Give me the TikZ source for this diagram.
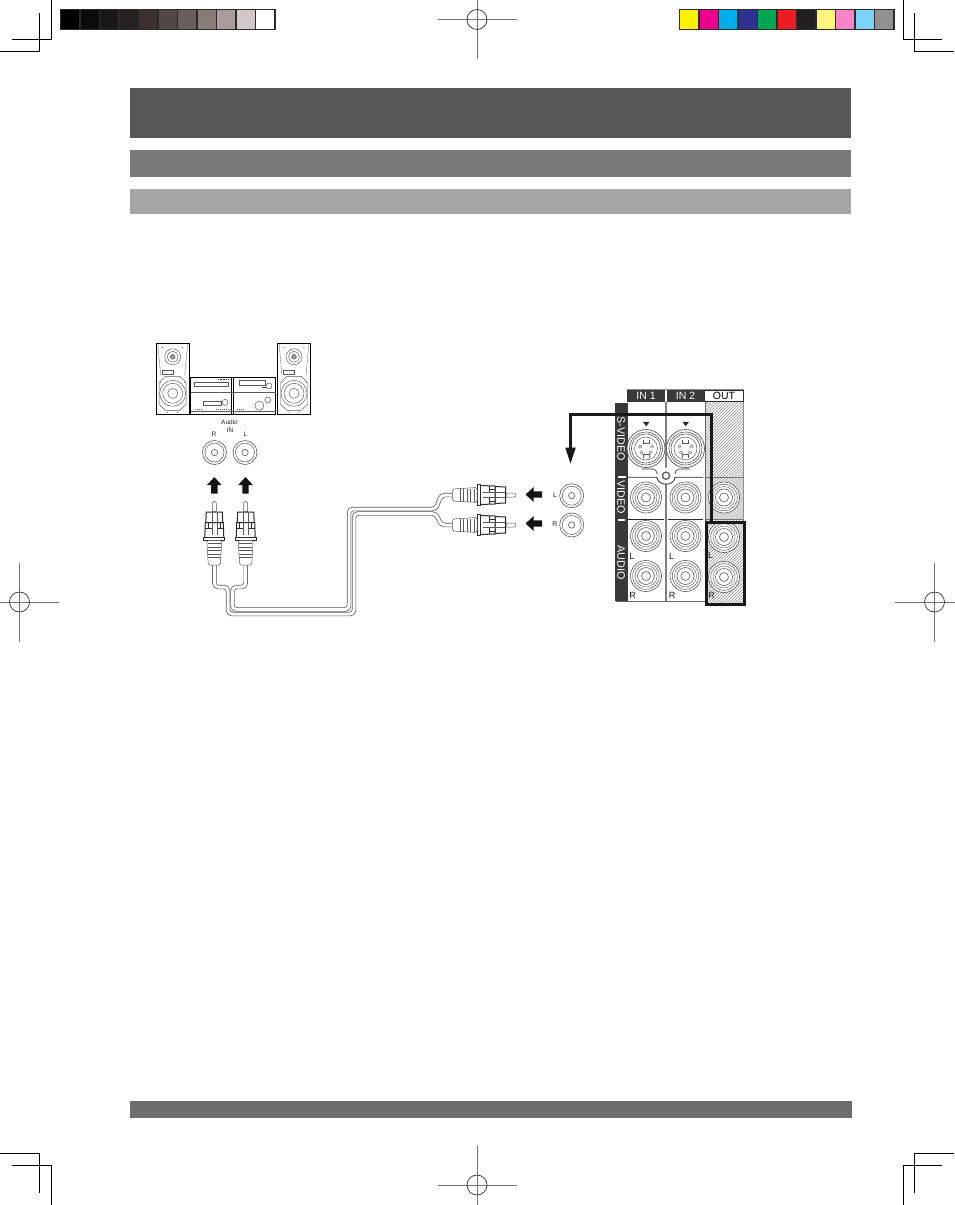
\documentclass[tikz,border=0pt]{standalone}
\usepackage{fontspec}
\setmainfont{Liberation Sans}
\newcommand{\fsz}[1]{\fontsize{#1}{#1}\selectfont}
\definecolor{ink}{HTML}{2B2A2A}
\definecolor{soft}{HTML}{5A5858}
\definecolor{framec}{HTML}{2E2A2A}
\definecolor{bara}{HTML}{595757}
\definecolor{barb}{HTML}{7A7878}
\definecolor{barc}{HTML}{A6A4A4}
\definecolor{bard}{HTML}{6E6C6C}
\definecolor{panelc}{HTML}{3A3838}
\definecolor{hatchc}{HTML}{8C8A8A}
\tikzset{
  crop/.style={black,line width=1pt},
  regline/.style={black!55,line width=.8pt},
  regcirc/.style={black!80,line width=.7pt},
  wire/.style={soft,line width=.7pt,double=white,double distance=3pt,rounded corners=4pt},
  thickconn/.style={black!90,line width=3pt},
  smalltxt/.style={inner sep=0pt,text=black!85,font=\fsz{6.5}},
  jacktxt/.style={inner sep=0pt,text=black!85,font=\fsz{7}},
  portlbl/.style={inner sep=0pt,text=black!90,font=\fsz{9}},
  paneltxt/.style={inner sep=0pt,text=white,font=\fsz{10.8}},
  headtxt/.style={inner sep=0pt,font=\fsz{10.5}},
}
% RCA jack
\newcommand{\rcajack}[2]{%
  \begin{scope}[shift={(#1,#2)}]
    \draw[soft,line width=.6pt,fill=white] (0,0) circle (15.5);
    \draw[soft,line width=.5pt] (0,0) circle (13.3);
    \draw[soft,line width=.4pt] (0,0) circle (11);
    \draw[soft,line width=.6pt] (0,0) circle (8.5);
    \draw[soft,line width=.6pt] (0,0) circle (4.5);
  \end{scope}}
% S-video jack
\newcommand{\svideojack}[2]{%
  \begin{scope}[shift={(#1,#2)}]
    \draw[soft,line width=.7pt,fill=white] (0,0) circle (19);
    \draw[soft,line width=.6pt] (0,0) circle (16.5);
    \draw[soft,line width=.6pt] (0,0) circle (14.5);
    \draw[soft,line width=.5pt] (0,0) circle (11.5);
    \draw[soft,line width=.4pt] (-3,-9) -- (-3,-5.5) -- (3,-5.5) -- (3,-9);
    \draw[soft,line width=.4pt] (-3,9.5) -- (-3,6) -- (3,6) -- (3,9.5);
    \foreach \a/\b in {-6/-2,6/-2,-4.5/4,4.5/4}{\draw[soft,line width=.4pt] (\a,\b) circle (1.6);}
  \end{scope}}
% small jack of the stereo / plug side
\newcommand{\smalljack}[2]{%
  \begin{scope}[shift={(#1,#2)}]
    \draw[soft,line width=.6pt] (0,0) circle (12);
    \draw[soft,line width=.5pt] (0,0) circle (9.5);
    \draw[soft,line width=.6pt] (0,0) circle (3.2);
  \end{scope}}
% Plug: tip at origin, body towards -x
\newcommand{\rcaplug}[3]{%
  \begin{scope}[shift={(#1,#2)},rotate=#3]
    \draw[soft,line width=.5pt,fill=white] (-10,-2) -- (-2,-2) arc (-90:90:2) -- (-10,2) -- cycle;
    \draw[ink,line width=1pt,fill=white] (-21,-8.5) -- (-10.5,-8) -- (-10.5,8) -- (-21,8.5) -- cycle;
    \draw[ink,line width=1pt,fill=white] (-36,-9.5) -- (-21,-9) -- (-21,9) -- (-36,9.5) -- cycle;
    \draw[ink,line width=.5pt] (-21,-6) -- (-27,-6) (-21,6) -- (-27,6) (-27,-9) -- (-27,-2.5) (-27,9) -- (-27,2.5);
    \draw[soft,line width=.35pt] (-33,-2.5) -- (-11,-2.5) (-33,2.5) -- (-11,2.5);
    \draw[ink,line width=.8pt,fill=white] (-39,-10.5) rectangle (-36,10.5);
    \draw[soft,line width=.5pt,fill=white,rounded corners=1.5pt] (-39,-7.5) -- (-63.5,-6) -- (-63.5,6) -- (-39,7.5) -- cycle;
    \foreach \k in {-42,-45.5,-49,-52.5,-56}{\draw[soft,line width=.4pt] (\k,-6.5) -- (\k,6.5);}
  \end{scope}}
% Block arrow
\newcommand{\blockarrow}[3]{%
  \begin{scope}[shift={(#1,#2)},rotate=#3]
    \fill[black!92] (8,0) -- (0,7.3) -- (0,3.2) -- (-8.5,3.2) -- (-8.5,-3.2) -- (0,-3.2) -- (0,-7.3) -- cycle;
  \end{scope}}
% Speaker
\newcommand{\speaker}[2]{%
  \begin{scope}[shift={(#1,#2)}]
    \draw[black,line width=1pt,fill=white] (-16.5,0) rectangle (16.5,71);
    \draw[soft,line width=.3pt] (-15,0) -- (-12,32) (15,0) -- (12,32);
    \draw[soft,line width=.45pt] (0,13.5) circle (8);
    \draw[soft,line width=.45pt] (0,13.5) circle (5.5);
    \draw[soft,line width=.45pt,fill=black!40] (0,13.5) circle (2.4);
    \draw[soft,line width=.4pt] (-11,27) rectangle (0.5,31);
    \draw[soft,line width=.45pt,fill=white] (-7,33) -- (7,33) -- (13.5,39) -- (13.5,61) -- (7,67) -- (-7,67) -- (-13.5,61) -- (-13.5,39) -- cycle;
    \draw[soft,line width=.45pt] (0,50) circle (13);
    \draw[soft,line width=.45pt] (0,50) circle (10);
    \draw[soft,line width=.45pt] (0,50) circle (5);
    \foreach \a/\b in {-10/4,10/4,-5/69,5/69,-12/39,12/39}{\fill[ink] (\a,\b) circle (.5);}
  \end{scope}}
\begin{document}
\begin{tikzpicture}[x=1pt,y=-1pt]
\useasboundingbox (0,0) rectangle (954,1205);
\fill[white] (0,0) rectangle (954,1205);
% crop marks
\draw[crop] (51.5,0) -- (51.5,39.5) -- (12,39.5);
\draw[crop] (39.5,12.5) -- (39.5,51.5) -- (0,51.5);
\draw[crop] (903.3,0) -- (903.3,39.5) -- (942,39.5);
\draw[crop] (914.3,12.5) -- (914.3,51.5) -- (954,51.5);
\draw[crop] (0,1153) -- (39.5,1153) -- (39.5,1192.7);
\draw[crop] (12,1165.3) -- (51.5,1165.3) -- (51.5,1205);
\draw[crop] (954,1153) -- (914.3,1153) -- (914.3,1192.7);
\draw[crop] (942,1165.3) -- (903.3,1165.3) -- (903.3,1205);
% registration marks
\foreach \cx/\cy in {477/19.5,477/1185,19.5/602,934.5/602}{
  \draw[regline] (\cx-39.5,\cy) -- (\cx+39.5,\cy) (\cx,{max(\cy-39.5,0)}) -- (\cx,{min(\cy+39.5,1205)});
  \draw[regcirc] (\cx,\cy) circle (10);
}
% colour bars
\foreach \i/\c in {0/000000,1/0D0B0A,2/1A1716,3/26211E,4/3B302D,5/524845,6/6B5F5C,7/877B76,8/A89D9A,9/D1C9C7,10/FFFFFF}{
  \definecolor{cc}{HTML}{\c}
  \draw[framec,line width=1.2pt,fill=cc] ({60.5+\i*19.5},9.7) rectangle ({60.5+(\i+1)*19.5},29.5);
}
\foreach \i/\c in {0/FFF200,1/EC008C,2/00AEEF,3/2E3192,4/00A651,5/ED1C24,6/231F20,7/FFF57D,8/F783C8,9/7DD3F7,10/918F8F}{
  \definecolor{cc}{HTML}{\c}
  \draw[framec,line width=1.2pt,fill=cc] ({679.5+\i*19.5},9.7) rectangle ({679.5+(\i+1)*19.5},29.5);
}
% header bars
\fill[bara] (130,88) rectangle (851,138);
\fill[barb] (130,150) rectangle (851,177);
\fill[barc] (130,189) rectangle (851,214);
\fill[bard] (130,1101) rectangle (852,1118);
% speakers and stereo
\speaker{172.7}{343.3}
\speaker{294}{343.3}
\draw[black,line width=1pt,fill=white] (190.5,377.5) rectangle (275.7,414.3);
\draw[black,line width=.7pt] (231.7,377.5) -- (231.7,414.3) (233,377.5) -- (233,414.3);
\draw[soft,line width=.5pt] (190.5,392.3) -- (275.7,392.3);
\draw[soft,line width=.4pt] (190.5,411) -- (275.7,411);
\draw[soft,line width=.5pt] (194.3,382) rectangle (228.3,386.7);
\draw[ink,line width=1.2pt,dash pattern=on 1pt off .6pt] (218,379.8) -- (228,379.8);
\draw[soft,line width=.5pt] (203.3,401) rectangle (221,405.7);
\draw[soft,line width=.5pt] (225,402.3) circle (3);
\draw[soft,line width=.9pt,dash pattern=on 1.2pt off .8pt] (195,409.5) -- (202,409.5) (216,409.5) -- (231,409.5);
\draw[soft,line width=.5pt] (239.3,380) rectangle (265,385);
\draw[soft,line width=.5pt] (269,386) circle (3);
\draw[ink,line width=.8pt] (262,387.5) -- (266,387.5);
\draw[soft,line width=.5pt] (259.3,405.7) circle (4.5);
\draw[soft,line width=.5pt] (267.7,400) circle (3);
\draw[soft,line width=.9pt,dash pattern=on 1.2pt off .8pt] (237,409.5) -- (244,409.5);
% audio in labels
\node[smalltxt] (audiolbl) at (229.5,422.5) {Audio};
\node[smalltxt] (inlbl) at (230,430) {IN};
\node[smalltxt] (rlbl) at (214,434) {R};
\node[smalltxt] (llbl) at (245.5,434) {L};
\smalljack{214.5}{452.5}
\smalljack{245}{452.5}
\blockarrow{214.3}{485}{90}
\blockarrow{245.5}{485}{90}
% cable
\coordinate (plugA) at (214.3,565);
\coordinate (plugB) at (245.7,565);
\coordinate (plugL) at (452,495);
\coordinate (plugR) at (452,525);
\draw[wire] (plugA) -- (214.3,587) -- (228,587) -- (228,614) -- (354,614) -- (354,513.5) -- (436,513.5) -- (441,525) -- (plugR);
\draw[wire] (plugB) -- (245.7,587) -- (232.5,587) -- (232.5,609.5) -- (349,609.5) -- (349,509) -- (436,509) -- (441,495) -- (plugL);
% plugs
\rcaplug{214.3}{501.5}{90}
\rcaplug{245.7}{501.5}{90}
\rcaplug{516}{495}{0}
\rcaplug{516}{525}{0}
% arrows and jacks at centre
\blockarrow{533.5}{494.5}{180}
\blockarrow{533.5}{523.5}{180}
\node[jacktxt] (ljack) at (555,495) {L};
\node[jacktxt] (rjack) at (555,524) {R};
\smalljack{571.7}{495.7}
\smalljack{571.7}{525}
% panel
\fill[white] (627,402) rectangle (705,601);
% hatched OUT column
\begin{scope}
  \clip (705,401.7) rectangle (743.3,604);
  \foreach \k in {0,3,...,260}{
    \draw[hatchc,line width=.55pt] (700,{404+\k}) -- ++(60,-60);
  }
  \fill[white,opacity=.5] (705,477) rectangle (743.3,519);
  \fill[black!30,opacity=.4] (705,477) rectangle (743.3,519);
\end{scope}
\draw[black!45,line width=.8pt] (627,389.5) -- (743.5,389.5) -- (743.5,522);
\draw[black!55,line width=.7pt] (705,477.3) -- (743,477.3) (705,519) -- (743,519);
\draw[black!60,line width=.7pt] (705,401.7) -- (705,522);
\draw[black!60,line width=.7pt] (616,601) -- (706,601);
% header
\fill[panelc] (627.3,390) rectangle (665,401.7);
\fill[panelc] (666.8,390) rectangle (704.3,401.7);
\draw[framec,line width=.7pt,fill=white] (704.7,390) rectangle (743,401.7);
\node[headtxt,text=white] (in1) at (646,396) {IN 1};
\node[headtxt,text=white] (in2) at (685.5,396) {IN 2};
\node[headtxt,text=black] (outl) at (724,396) {OUT};
% left column
\fill[panelc] (615,402.7) rectangle (627.7,600.7);
\draw[white,line width=1.2pt] (618,477) -- (626,477) (618,520) -- (624.5,520);
\node[paneltxt,rotate=-90] (sv) at (621,438.5) {S-VIDEO};
\node[paneltxt,rotate=-90] (vd) at (621,497.5) {VIDEO};
\node[paneltxt,rotate=-90] (au) at (621,562.5) {AUDIO};
% centre divider
\draw[black!50,line width=1.6pt] (665.8,402) -- (665.8,601);
% S-video
\svideojack{646}{448.5}
\svideojack{685.5}{448.5}
\fill[ink] (643,421.8) -- (649.5,421.8) -- (646.2,426.3) -- cycle;
\fill[ink] (682.5,421.8) -- (689,421.8) -- (685.7,426.3) -- cycle;
% RCA jacks
\foreach \cx in {646,685.5}{\foreach \cy in {497.5,536,576}{\rcajack{\cx}{\cy}}}
\rcajack{724}{497.5}
\rcajack{724}{537}
\rcajack{724}{577}
% rules and screw
\fill[white] (666,475.7) circle (8);
\draw[ink,line width=.8pt] (628,477.3) -- (657,477.3) .. controls (658,486.5) and (674,486.5) .. (675,477.3) -- (703,477.3);
\draw[ink,line width=.6pt] (642,469) -- (653,469) .. controls (655.5,469) and (656.5,471) .. (657.3,474);
\draw[ink,line width=.6pt] (690,469) -- (679,469) .. controls (676.5,469) and (675.5,471) .. (674.7,474);
\draw[ink,line width=.8pt] (628,519) -- (664,519) (668,519) -- (703,519);
\draw[soft,line width=1.3pt] (666,475.7) circle (3.6);
% labels
\node[portlbl] (l1) at (632,556.5) {L};
\node[portlbl] (r1) at (632.5,595) {R};
\node[portlbl] (l2) at (671.5,556.5) {L};
\node[portlbl] (r2) at (672,595) {R};
\node[portlbl] (l3) at (710.5,555.5) {L};
\node[portlbl] (r3) at (711.5,595) {R};
% thick connector
\coordinate (boxtop) at (711.5,522.3);
\coordinate (corner) at (711.5,414.3);
\coordinate (elbow) at (570.5,414.3);
\coordinate (headbase) at (570.5,448.5);
\coordinate (tip) at (570.5,463.5);
\draw[black!90,line width=3pt] (706.7,522.3) rectangle (744.3,604);
\draw[thickconn] (boxtop) -- (corner) -- (elbow) -- (headbase);
\fill[black!90] (565.2,447.5) -- (575.8,447.5) -- (tip) -- cycle;
\end{tikzpicture}
\end{document}
